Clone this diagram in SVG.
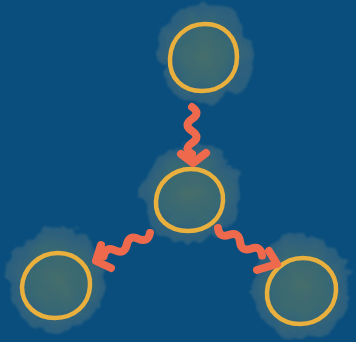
<svg xmlns="http://www.w3.org/2000/svg" width="356" height="342" viewBox="0 0 356 342">
<defs>
<radialGradient id="blobg" cx="50%" cy="50%" r="50%">
<stop offset="0" stop-color="#466e6b"/>
<stop offset="0.55" stop-color="#386873"/>
<stop offset="1" stop-color="#2a5f80"/>
</radialGradient>
<filter id="rough" x="-30%" y="-30%" width="160%" height="160%">
<feTurbulence type="fractalNoise" baseFrequency="0.05" numOctaves="3" seed="5" result="n"/>
<feDisplacementMap in="SourceGraphic" in2="n" scale="20" xChannelSelector="R" yChannelSelector="G" result="d"/>
<feGaussianBlur in="d" stdDeviation="0.8"/>
</filter>
<style>
.blob{fill:url(#blobg);filter:url(#rough);}
.ring{fill:none;stroke:#e9b03e;stroke-width:4.5;}
.wave{fill:none;stroke:#ef6a4c;stroke-width:8;stroke-linecap:round;stroke-linejoin:round;}
</style>
</defs>
<rect width="356" height="342" fill="#0a4e7d"/>
<g id="node-top">
<ellipse class="blob" cx="204" cy="54" rx="47" ry="49"/>
<path class="ring" d="M205,24 C224,24 237,37 237,57 C237,77 222,91 202,91 C183,91 169,79 170,58 C171,38 186,24 205,24 Z"/>
</g>
<g id="node-center">
<ellipse class="blob" cx="191" cy="193" rx="49" ry="50"/>
<path class="ring" d="M191,169 C210,169 224,183 223,201 C222,219 207,231 188,231 C169,231 155,219 156,201 C157,183 172,169 191,169 Z"/>
</g>
<g id="node-left">
<ellipse class="blob" cx="57" cy="280" rx="49" ry="52"/>
<path class="ring" d="M58,253 C77,253 91,267 90,286 C89,305 74,318 55,318 C36,318 22,305 22,287 C23,268 39,253 58,253 Z"/>
</g>
<g id="node-right">
<ellipse class="blob" cx="301" cy="286" rx="49" ry="52"/>
<path class="ring" d="M303,258 C322,258 337,272 336,291 C335,310 319,324 300,324 C281,324 266,311 267,292 C268,273 284,258 303,258 Z"/>
</g>
<g id="connectors">
<path class="wave" d="M192,107 q9,6 0,12 t0,12 t0,12 t0,11"/>
<path class="wave" d="M181,154 L193,163 L206,153"/>
<path class="wave" d="M150,233 q-2.2,10.1 -11.6,5.8 t-11.6,5.8 t-11.6,5.8 t-11.6,5.8"/>
<path class="wave" d="M101,245 L96,261 L111,268"/>
<path class="wave" d="M218,228 q1.2,10.3 11,6.9 t11,6.9 t11,6.9 t11,6.9"/>
<path class="wave" d="M269,251 L277,264 L257,270"/>
</g>
</svg>
